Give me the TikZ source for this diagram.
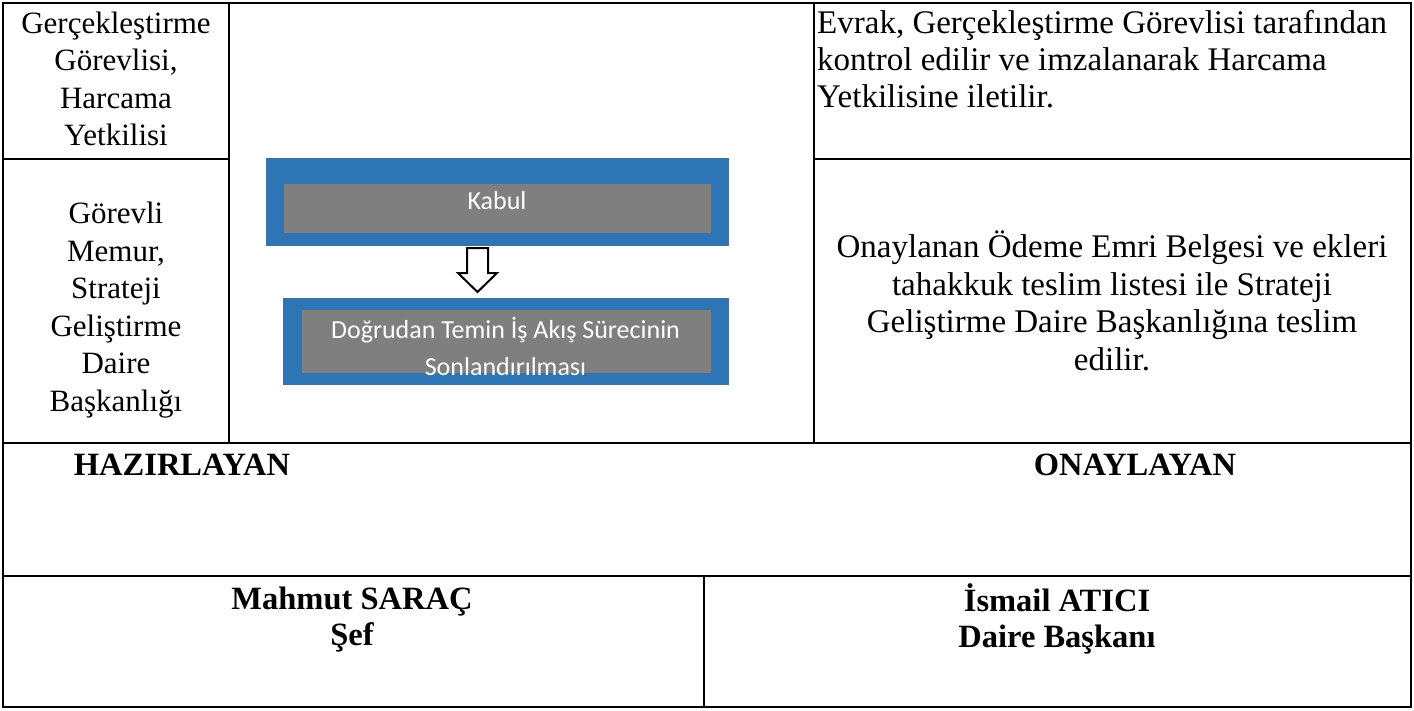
\documentclass[tikz,border=0pt]{standalone}
\usepackage{fontspec}
\setmainfont{Liberation Serif}
\newfontfamily\calfont{Carlito}
\definecolor{boxblue}{HTML}{2E75B6}
\definecolor{boxedge}{HTML}{41719C}
\definecolor{boxgray}{HTML}{7F7F7F}
\begin{document}
\begin{tikzpicture}[x=1pt,y=-1pt,
  rule/.style={line width=2pt},
  thinrule/.style={line width=1.6pt},
  cell/.style={inner sep=0pt, align=center, font=\fontsize{31}{37.5}\selectfont},
  rcell/.style={inner sep=0pt, align=center, font=\fontsize{33}{37.7}\selectfont},
  lcell/.style={inner sep=0pt, align=left, anchor=west, font=\fontsize{33}{37.2}\selectfont},
  sign/.style={inner sep=0pt, align=center, font=\fontsize{32.5}{36}\selectfont\bfseries},
  outerbox/.style={draw=boxedge, line width=0.8pt, fill=boxblue, inner sep=0pt},
  innerbox/.style={fill=boxgray, inner sep=0pt},
  boxtext/.style={text=white, inner sep=0pt, align=center, font=\calfont\fontsize{26}{37}\selectfont},
  blockarrow/.style={draw=black, fill=white, line width=2pt, line join=miter}]
\useasboundingbox (0,0) rectangle (1414,710);
% table frame
\draw[rule] (3,3) rectangle (1411,707);
\draw[thinrule] (229,3) -- (229,443);
\draw[thinrule] (814,3) -- (814,443);
\draw[rule] (3,159) -- (229,159);
\draw[rule] (814,159) -- (1411,159);
\draw[rule] (3,443) -- (1411,443);
\draw[rule] (3,576) -- (1411,576);
\draw[thinrule] (704,576) -- (704,707);
% left column
\node[cell] (role1) at (116,79) {Gerçekleştirme\\Görevlisi,\\Harcama\\Yetkilisi};
\node[cell] (role2) at (116,310) {Görevli\\Memur,\\Strateji\\Geliştirme\\Daire\\Başkanlığı};
% right column
\node[lcell] (desc1) at (817,59) {Evrak, Gerçekleştirme Görevlisi tarafından\\kontrol edilir ve imzalanarak Harcama\\Yetkilisine iletilir.};
\node[rcell] (desc2) at (1112,301) {Onaylanan Ödeme Emri Belgesi ve ekleri\\tahakkuk teslim listesi ile Strateji\\Geliştirme Daire Başkanlığına teslim\\edilir.};
% flow boxes
\node[outerbox, minimum width=462pt, minimum height=87pt] (b1) at (497,201.5) {};
\node[innerbox, minimum width=427pt, minimum height=49pt] (i1) at (497.5,208.5) {};
\node[boxtext] (t1) at (497,201) {Kabul};
\node[outerbox, minimum width=445pt, minimum height=86pt] (b2) at (505.5,341) {};
\node[innerbox, minimum width=409pt, minimum height=63pt] (i2) at (506.5,341.5) {};
\node[boxtext] (t2) at (505.5,346) {Doğrudan Temin İş Akış Sürecinin\\Sonlandırılması};
\draw[blockarrow] (467,248) -- (488,248) -- (488,273) -- (497,273) -- (477.5,292) -- (458,273) -- (467,273) -- cycle;
% signatures
\node[sign] (hz) at (182,465) {HAZIRLAYAN};
\node[sign] (on) at (1135,465) {ONAYLAYAN};
\node[sign] (p1) at (352,620) {Mahmut SARAÇ\\Şef};
\node[sign] (p2) at (1057,619) {İsmail ATICI\\Daire Başkanı};
\end{tikzpicture}
\end{document}
